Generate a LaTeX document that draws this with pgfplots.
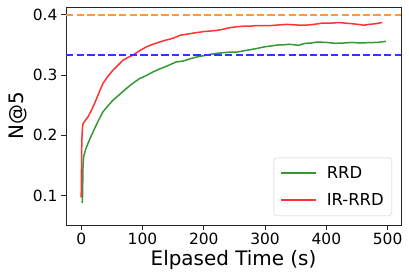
\documentclass[border=0pt]{standalone}
\usepackage{pgfplots}
\pgfplotsset{compat=1.18}
\usepackage{fontspec}
\setmainfont{DejaVu Sans}
\definecolor{mgreen}{RGB}{51,153,51}
\definecolor{mred}{RGB}{255,51,51}
\definecolor{morange}{RGB}{255,152,62}
\definecolor{mblue}{RGB}{51,51,255}
\begin{document}
\begin{tikzpicture}
\begin{axis}[
  scale only axis,
  width=335bp, height=218bp,
  xmin=-24.8, xmax=521.8,
  ymin=0.051, ymax=0.4128,
  xtick={0,100,200,300,400,500},
  ytick={0.1,0.2,0.3,0.4},
  yticklabel style={/pgf/number format/fixed,/pgf/number format/precision=1,/pgf/number format/fixed zerofill},
  /pgf/number format/assume math mode=true,
  tick align=outside,
  major tick length=5bp,
  tick style={black!85, line width=0.8bp},
  axis line style={black!85, line width=0.9bp},
  xtick pos=bottom, ytick pos=left,
  ticklabel style={font=\fontsize{15.5}{18}\selectfont},
  xlabel={Elpased Time (s)},
  ylabel={N@5},
  label style={font=\fontsize{20}{24}\selectfont},
  xlabel style={yshift=2bp},
  ylabel style={yshift=-1bp},
  legend cell align=left,
  legend style={at={(1,0)}, anchor=south east, xshift=-9bp, yshift=9bp,
    draw=black!20, rounded corners=3bp, font=\fontsize{16.5}{19}\selectfont,
    row sep=9bp, inner xsep=6bp, inner ysep=7bp},
]
\addlegendimage{legend image code/.code={\draw[draw=mgreen,line width=1.9bp] (0bp,0.3bp) -- (35bp,0.3bp); \path[draw=none] (0bp,0bp) -- (44bp,0bp);}}
\addlegendentry{RRD}
\addlegendimage{legend image code/.code={\draw[draw=mred,line width=1.9bp] (0bp,0bp) -- (35bp,0bp); \path[draw=none] (0bp,0bp) -- (44bp,0bp);}}
\addlegendentry{IR-RRD}
\addplot[mgreen, line width=1.5bp, forget plot] coordinates {
(1,0.088)(2,0.090)(3,0.150)(4,0.164)(7,0.176)(10.9,0.186)(16,0.198)(21.8,0.211)(28,0.224)(35.4,0.2387)(43,0.248)(51.7,0.258)(62,0.267)(73.5,0.2774)(84,0.286)(95.3,0.294)(106,0.299)(117,0.305)(128,0.310)(139,0.3144)(147,0.318)(155,0.3216)(167,0.3232)(178,0.327)(189,0.330)(200,0.332)(211,0.3343)(222,0.336)(232.5,0.337)(244,0.338)(254,0.338)(265,0.340)(276,0.342)(287,0.344)(298,0.3465)(309,0.348)(320,0.3497)(330,0.350)(339,0.351)(348,0.350)(355,0.3492)(360,0.351)(366,0.3525)(375,0.353)(385,0.3547)(400,0.354)(415,0.3525)(428,0.353)(442,0.354)(455,0.353)(469,0.3537)(483,0.354)(497,0.3558)
};
\addplot[mred, line width=1.5bp, forget plot] coordinates {
(0,0.097)(1,0.190)(2,0.212)(3,0.219)(7,0.225)(10.9,0.230)(16,0.240)(21.8,0.2526)(28,0.268)(35.4,0.2857)(43,0.297)(51.7,0.3078)(60,0.316)(68,0.3244)(76,0.329)(84.4,0.333)(95,0.340)(106,0.3465)(117,0.351)(128,0.3547)(139,0.358)(150,0.361)(162,0.366)(174,0.368)(186,0.370)(200,0.372)(211,0.373)(222,0.374)(232,0.376)(243,0.3786)(254,0.380)(265,0.381)(276,0.381)(287,0.382)(298,0.382)(309,0.382)(322,0.383)(336,0.384)(350,0.383)(366,0.3825)(380,0.384)(393,0.386)(407,0.386)(420,0.387)(431,0.386)(442,0.385)(452,0.384)(461,0.3825)(470,0.384)(480,0.385)(491,0.387)
};
\addplot[morange, line width=2bp, dash pattern=on 7.4bp off 3.2bp, forget plot] coordinates {(-24.8,0.399)(521.8,0.399)};
\addplot[mblue, line width=2bp, dash pattern=on 7.4bp off 3.2bp, forget plot] coordinates {(-24.8,0.333)(521.8,0.333)};
\end{axis}
\pgfresetboundingbox
\path[use as bounding box] (-66bp,-52bp) rectangle (343bp,225bp);
\end{tikzpicture}
\end{document}
